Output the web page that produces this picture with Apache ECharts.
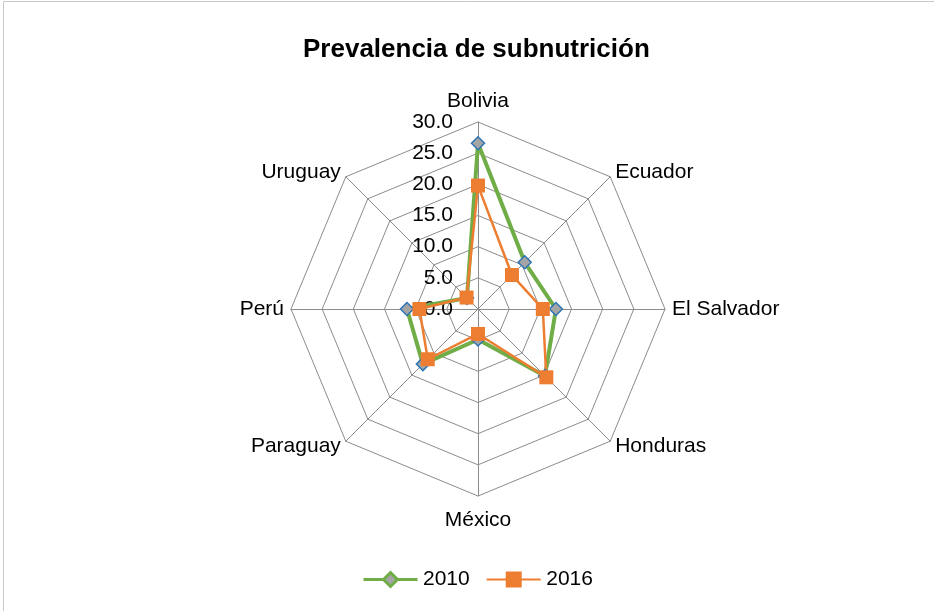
<!DOCTYPE html>
<html><head><meta charset="utf-8">
<script src="https://cdn.jsdelivr.net/npm/echarts@6/dist/echarts.min.js"></script>
<style>html,body{margin:0;padding:0;background:#fff}#c{width:934px;height:611px}</style>
</head><body><div id="c"></div>
<script>
const title = 'Prevalencia de subnutrición';
const countries = ['Bolivia','Ecuador','El Salvador','Honduras','México','Paraguay','Perú','Uruguay'];
const v2010 = [26.6, 10.6, 12.5, 15.2, 4.9, 12.5, 11.4, 2.5];
const v2016 = [19.8, 7.7, 10.4, 15.5, 4.0, 11.4, 9.4, 2.6];
const seriesNames = ['2010','2016'];
const axisMax = 30;

// ECharts radar runs counter-clockwise; reorder so that order is clockwise from top
const order = [0,7,6,5,4,3,2,1];
const font = '"Liberation Sans",Arial,sans-serif';

const indicator = order.map((i, k) => {
  const o = {name: countries[i], max: axisMax, min: 0};
  if (k === 0) {
    o.axisLabel = {show: true, formatter: v => v.toFixed(1), color: '#000', fontSize: 21, fontFamily: font, margin: 25, showMinLabel: true, showMaxLabel: true};
  }
  return o;
});

const chart = echarts.init(document.getElementById('c'), null, {renderer: 'canvas'});
chart.setOption({
  animation: false,
  backgroundColor: '#fff',
  title: {text: title, left: 298, top: 32, textStyle: {fontFamily: font, fontSize: 26, fontWeight: 'bold', color: '#000'}},
  graphic: [{type: 'rect', shape: {x: 3.5, y: 1.5, width: 940, height: 620}, style: {fill: 'none', stroke: '#c8c8c8', lineWidth: 1}, silent: true}],
  legend: {
    bottom: 16, left: 357, itemWidth: 55, itemHeight: 14, itemGap: 16,
    textStyle: {fontFamily: font, fontSize: 21, color: '#000'},
    data: [
      {name: seriesNames[0], icon: 'path://M0,7L20,7M20,7L27,0L34,7L27,14ZM34,7L54,7', itemStyle: {color: '#A5A5A5', borderColor: '#70AD47', borderWidth: 3}},
      {name: seriesNames[1], icon: 'path://M0,7L20,7M20,0L34,0L34,14L20,14ZM34,7L54,7', itemStyle: {color: '#ED7D31', borderColor: '#ED7D31', borderWidth: 2}}
    ]
  },
  radar: {
    center: [478, 309], radius: 187, startAngle: 90, splitNumber: 6, shape: 'polygon',
    indicator: indicator,
    axisName: {color: '#000', fontSize: 21, fontFamily: font,
      formatter: n => n === 'México' ? '{m|' + n + '}' : n,
      rich: {m: {fontSize: 21, fontFamily: font, color: '#000', padding: [7, 0, 0, 0]}}},
    nameGap: 7,
    axisLine: {lineStyle: {color: '#8c8c8c', width: 1}},
    splitLine: {lineStyle: {color: '#8c8c8c', width: 1}},
    splitArea: {show: false},
    axisTick: {show: false},
    axisLabel: {show: false}
  },
  series: [{
    type: 'radar',
    data: [
      {name: seriesNames[0], value: order.map(i => v2010[i]),
       symbol: 'diamond', symbolSize: 13,
       lineStyle: {color: '#70AD47', width: 4},
       itemStyle: {color: '#A5A5A5', borderColor: '#2E75B6', borderWidth: 1.5}},
      {name: seriesNames[1], value: order.map(i => v2016[i]),
       symbol: 'rect', symbolSize: 14,
       lineStyle: {color: '#ED7D31', width: 2.5},
       itemStyle: {color: '#ED7D31', borderColor: '#ED7D31', borderWidth: 0}}
    ]
  }]
});
</script></body></html>
